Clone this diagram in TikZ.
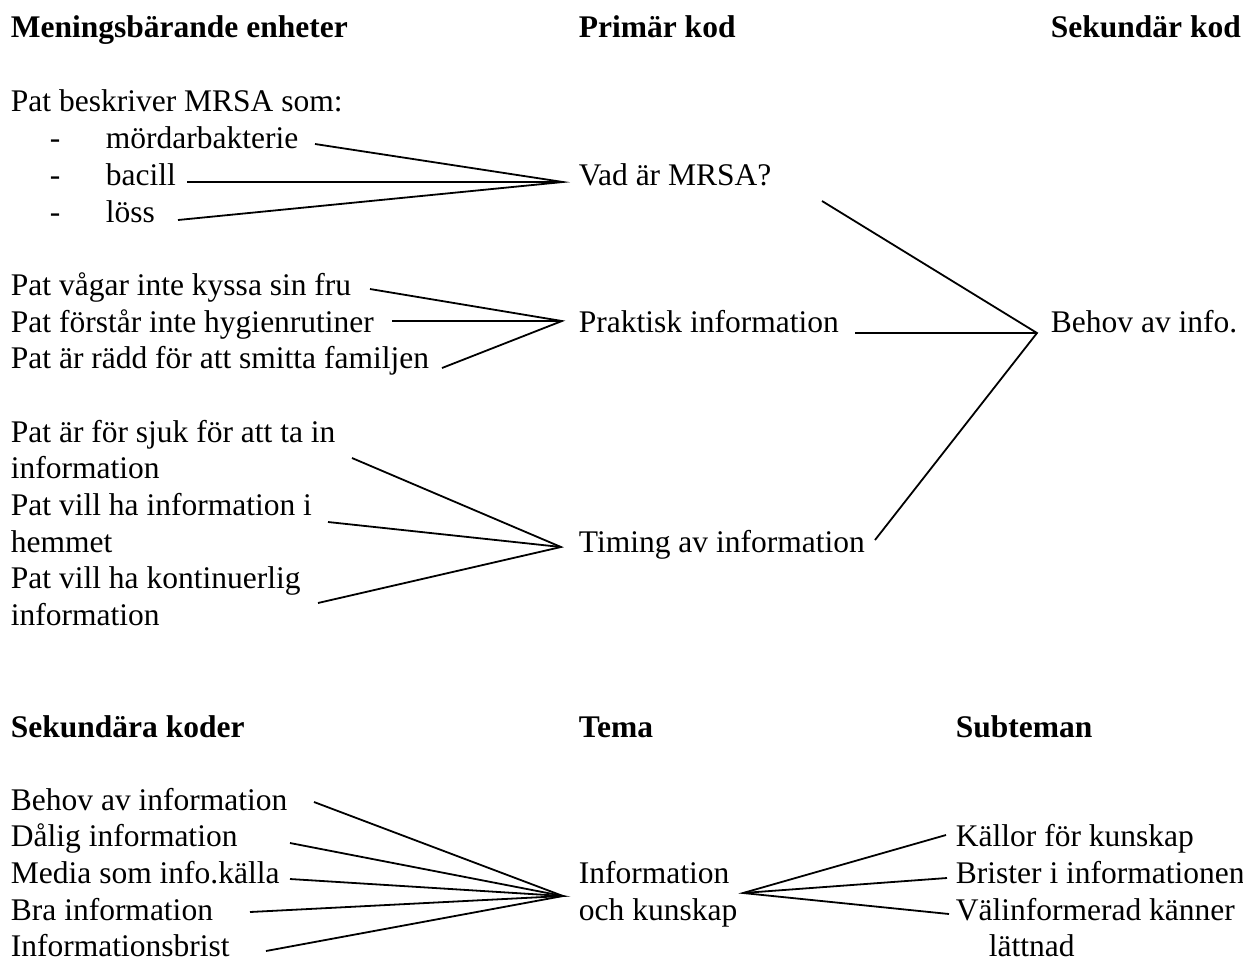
\documentclass[tikz,border=0pt]{standalone}
\usepackage{fontspec}
\setmainfont{Liberation Serif}
\usepackage{tikz}
\usetikzlibrary{positioning}
\tikzset{txt/.style = {anchor=base west,inner sep=0pt,font=\fontsize{15.75pt}{18pt}\selectfont},
         head/.style = {txt,font=\fontsize{15.75pt}{18pt}\selectfont\bfseries}}

\begin{document}
\begin{tikzpicture}[x=0.5pt,y=-0.5pt,every node/.style=txt,line width=0.9pt]
            \useasboundingbox (0,0) rectangle (1243,960);
            \node[head] (meb)  at (10,37)   {Meningsbärande enheter};
            \node[head] (prim) at (578,37)  {Primär kod};
            \node[head] (sek)  at (1050,37) {Sekundär kod};
            \node (pat)  at (10,111)  {Pat beskriver MRSA som:};
            \node (d1)   at (49,148)  {-};
            \node (d2)   at (49,185)  {-};
            \node (d3)   at (49,222)  {-};
            \node (mord) at (105,148) {mördarbakterie};
            \node (bac)  at (105,185) {bacill};
            \node (loss) at (105,222) {löss};
            \node (vad)  at (578,185) {Vad är MRSA?};
            \node (kyss) at (10,295)  {Pat vågar inte kyssa sin fru};
            \node (hyg)  at (10,332)  {Pat förstår inte hygienrutiner};
            \node (radd) at (10,368)  {Pat är rädd för att smitta familjen};
            \node (prak) at (578,332) {Praktisk information};
            \node (beh)  at (1050,332) {Behov av info.};
            \node (sjuk)  at (10,442) {Pat är för sjuk för att ta in};
            \node (sjukb) at (10,478) {information};
            \node (hem)   at (10,515) {Pat vill ha information i};
            \node (hemb)  at (10,552) {hemmet};
            \node (kont)  at (10,588) {Pat vill ha kontinuerlig};
            \node (kontb) at (10,625) {information};
            \node (tim)   at (578,552) {Timing av information};
            \node[head] (sekk) at (10,737)  {Sekundära koder};
            \node[head] (tema) at (578,737) {Tema};
            \node[head] (subt) at (955,737) {Subteman};
            \node (bi)   at (10,810) {Behov av information};
            \node (dal)  at (10,846) {Dålig information};
            \node (med)  at (10,883) {Media som info.källa};
            \node (bra)  at (10,920) {Bra information};
            \node (ib)   at (10,956) {Informationsbrist};
            \node (inf)  at (578,883) {Information};
            \node (ochk) at (578,920) {och kunskap};
            \node (kal)  at (955,846) {Källor för kunskap};
            \node (bri)  at (955,883) {Brister i informationen};
            \node (val)  at (955,920) {Välinformerad känner};
            \node (lat)  at (988,956) {lättnad};
            \coordinate (hv) at (563,182);
            \coordinate (hp) at (562,321);
            \coordinate (ht) at (561,547);
            \coordinate (hb) at (1037,333);
            \coordinate (hi) at (563,896);
            \coordinate (ho) at (743,893);
            \coordinate (m1) at (315,144);
            \coordinate (m2) at (187,182);
            \coordinate (m3) at (178,220);
            \coordinate (p1) at (370,289);
            \coordinate (p2) at (392,321);
            \coordinate (p3) at (442,368);
            \coordinate (t1) at (352,458);
            \coordinate (t2) at (328,522);
            \coordinate (t3) at (318,603);
            \coordinate (b1) at (822,201);
            \coordinate (b2) at (855,333);
            \coordinate (b3) at (875,540);
            \coordinate (i1) at (314,802);
            \coordinate (i2) at (290,843);
            \coordinate (i3) at (290,879);
            \coordinate (i4) at (250,912);
            \coordinate (i5) at (266,951);
            \coordinate (o1) at (946,835);
            \coordinate (o2) at (947,878);
            \coordinate (o3) at (949,914);
            \draw (m1) -- (hv) -- (m3);
            \draw (m2) -- (hv);
            \draw (p1) -- (hp) -- (p3);
            \draw (p2) -- (hp);
            \draw (t1) -- (ht) -- (t3);
            \draw (t2) -- (ht);
            \draw (b1) -- (hb) -- (b3);
            \draw (b2) -- (hb);
            \draw (i1) -- (hi) -- (i5);
            \draw (i2) -- (hi) -- (i4);
            \draw (i3) -- (hi);
            \draw (o1) -- (ho) -- (o3);
            \draw (o2) -- (ho);
        \end{tikzpicture}
\end{document}
